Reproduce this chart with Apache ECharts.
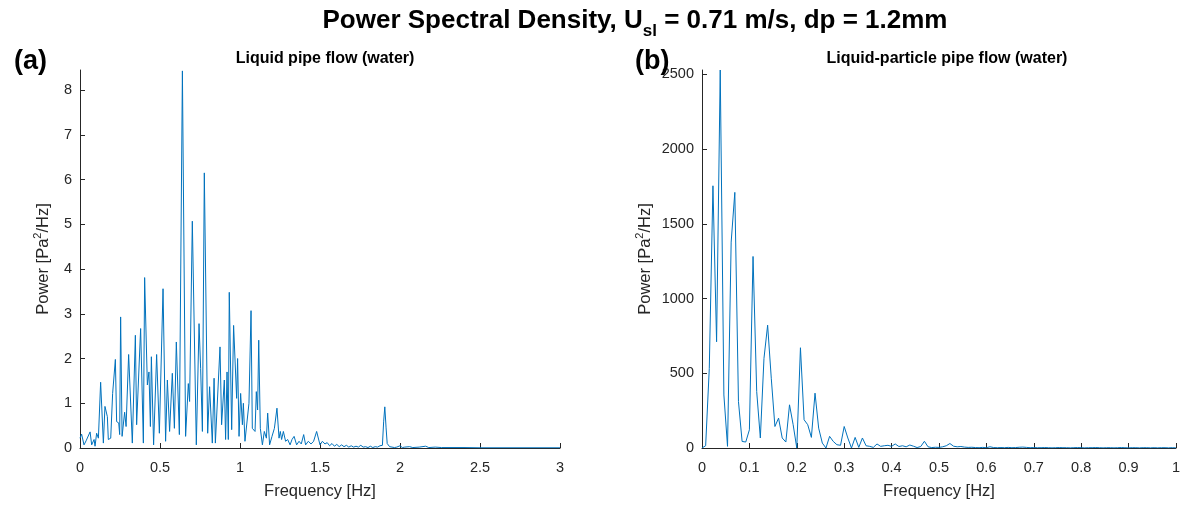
<!DOCTYPE html>
<html>
<head>
<meta charset="utf-8">
<script src="https://cdn.jsdelivr.net/npm/echarts@6/dist/echarts.min.js"></script>
<style>html,body{margin:0;padding:0;background:#fff}#c{width:1183px;height:505px}</style>
</head>
<body>
<div id="c"></div>
<script>
// ---- Panel (a): liquid pipe flow, vertices ----
const freqA = [0.000,0.010,0.025,0.038,0.048,0.063,0.073,0.088,0.094,0.104,0.115,0.129,0.146,0.156,0.171,0.177,0.192,0.204,0.221,0.229,0.242,0.248,0.254,0.263,0.279,0.288,0.304,0.327,0.346,0.354,0.379,0.396,0.404,0.421,0.431,0.440,0.446,0.460,0.479,0.496,0.519,0.535,0.546,0.560,0.577,0.590,0.602,0.621,0.640,0.660,0.677,0.685,0.702,0.727,0.744,0.754,0.765,0.777,0.798,0.810,0.827,0.838,0.846,0.875,0.885,0.902,0.910,0.919,0.927,0.933,0.948,0.960,0.979,0.985,0.994,1.004,1.015,1.021,1.031,1.056,1.069,1.077,1.094,1.102,1.110,1.117,1.127,1.140,1.152,1.165,1.173,1.185,1.200,1.215,1.231,1.244,1.252,1.260,1.271,1.285,1.298,1.313,1.325,1.338,1.354,1.369,1.383,1.398,1.410,1.427,1.444,1.460,1.479,1.500,1.515,1.531,1.545,1.560,1.575,1.590,1.605,1.620,1.635,1.650,1.665,1.680,1.695,1.710,1.725,1.740,1.755,1.770,1.785,1.800,1.815,1.830,1.845,1.860,1.875,1.890,1.898,1.905,1.913,1.920,1.935,1.950,1.965,1.980,2.000,2.015,2.030,2.060,2.080,2.120,2.160,2.180,2.220,2.260,2.300,2.400,2.500,2.600,2.700,2.800,2.900,3.000];
const powerA = [0.22,0.31,0.07,0.16,0.19,0.36,0.07,0.19,0.04,0.33,0.22,1.47,0.11,0.93,0.70,0.19,0.22,1.22,1.98,0.59,0.56,0.30,2.93,0.26,0.80,0.48,2.09,0.11,2.52,0.52,2.67,0.11,3.81,1.41,1.70,0.48,2.04,0.07,2.09,0.33,3.56,0.15,1.52,0.37,1.67,0.44,2.37,0.30,8.43,0.26,1.44,1.04,5.07,0.07,2.78,1.78,0.37,6.15,0.33,1.37,0.11,1.56,0.11,2.26,0.52,1.52,0.19,1.70,0.19,3.48,0.41,2.74,1.11,2.00,0.26,1.22,0.52,1.00,0.15,1.00,3.07,0.44,0.37,1.26,0.85,2.41,0.44,0.07,0.37,0.22,0.78,0.07,0.26,0.44,0.89,0.22,0.37,0.19,0.37,0.15,0.19,0.07,0.19,0.26,0.07,0.15,0.09,0.30,0.07,0.15,0.09,0.15,0.37,0.07,0.15,0.09,0.12,0.05,0.10,0.04,0.08,0.03,0.07,0.03,0.06,0.02,0.05,0.02,0.04,0.02,0.06,0.02,0.03,0.01,0.04,0.01,0.03,0.02,0.05,0.06,0.60,0.92,0.45,0.10,0.03,0.02,0.01,0.02,0.05,0.01,0.02,0.03,0.01,0.02,0.04,0.01,0.02,0.01,0.01,0.01,0.005,0.005,0.005,0.005,0.005,0.005];
const ticksXA = [0,0.5,1,1.5,2,2.5,3];
const ticksYA = [0,1,2,3,4,5,6,7,8];

// ---- Panel (b): liquid-particle pipe flow, uniform frequency grid ----
const dfB = 1/130;
const powerB = [0,15,533,1755,711,2530,355,11,1378,1711,311,44,40,122,1282,378,67,600,822,467,144,200,67,40,289,156,0,671,189,156,71,367,133,33,0,78,44,22,18,144,67,0,71,4,67,15,11,4,27,11,15,18,11,27,
10,15,8,20,12,3,10,45,8,3,5,4,8,15,30,12,8,10,6,4,5,3,2,4,2,8,3,2,3,2,4,2,3,5,6,4,2,3,2,2,3,2,1,2,3,2,
2,1,2,3,2,1,2,2,3,2,1,2,2,1,2,3,2,1,2,2,1,2,2,1,2,1,2,2,1,2,1];
const ticksXB = [0,0.1,0.2,0.3,0.4,0.5,0.6,0.7,0.8,0.9,1];
const ticksYB = [0,500,1000,1500,2000,2500];

const FONT = '"Liberation Sans", Arial, Helvetica, sans-serif';
const TXT = '#262626';
const LINE = '#0072BD';

const dataA = freqA.map((f, i) => [f, powerA[i]]);
const dataB = powerB.map((p, i) => [i * dfB, p]);

function xAxisCfg(gi, max, ticks) {
  return {
    type: 'value', gridIndex: gi, min: 0, max: max,
    name: 'Frequency [Hz]', nameLocation: 'middle', nameGap: 35,
    nameTextStyle: { fontFamily: FONT, fontSize: 16.5, color: TXT },
    axisLine: { lineStyle: { color: TXT, width: 1 } },
    axisTick: { inside: true, length: 5, lineStyle: { color: TXT }, customValues: ticks },
    axisLabel: { fontFamily: FONT, fontSize: 14.5, color: TXT, margin: 12, customValues: ticks, formatter: v => String(v) },
    splitLine: { show: false }
  };
}
function yAxisCfg(gi, max, ticks, gap) {
  return {
    type: 'value', gridIndex: gi, min: 0, max: max,
    name: 'Power [Pa{sup|2}/Hz]', nameLocation: 'middle', nameGap: gap, nameRotate: 90,
    nameTextStyle: { fontFamily: FONT, fontSize: 16.5, color: TXT, lineHeight: 22,
      rich: { sup: { fontFamily: FONT, fontSize: 11, color: TXT, verticalAlign: 'top', lineHeight: 12 } } },
    axisLine: { show: true, lineStyle: { color: TXT, width: 1 } },
    axisTick: { show: true, inside: true, length: 5, lineStyle: { color: TXT }, customValues: ticks },
    axisLabel: { fontFamily: FONT, fontSize: 14.5, color: TXT, margin: 8, customValues: ticks, formatter: v => String(v) },
    splitLine: { show: false }
  };
}

const chart = echarts.init(document.getElementById('c'), null, { renderer: 'canvas' });
chart.setOption({
  animation: false,
  backgroundColor: '#fff',
  title: [
    { text: 'Power Spectral Density, U{sub|sl} = 0.71 m/s, dp = 1.2mm', left: 630, top: -3, textAlign: 'center',
      textStyle: { fontFamily: FONT, fontSize: 26, fontWeight: 'bold', color: '#000', lineHeight: 38,
        rich: { sub: { fontFamily: FONT, fontSize: 17, fontWeight: 'bold', color: '#000', verticalAlign: 'bottom', lineHeight: 16 } } } },
    { text: '(a)', left: 9, top: 43, textStyle: { fontFamily: FONT, fontSize: 27, fontWeight: 'bold', color: '#000' } },
    { text: '(b)', left: 630, top: 43, textStyle: { fontFamily: FONT, fontSize: 27, fontWeight: 'bold', color: '#000' } },
    { text: 'Liquid pipe flow (water)', left: 320, top: 46, textAlign: 'center',
      textStyle: { fontFamily: FONT, fontSize: 16, fontWeight: 'bold', color: '#000' } },
    { text: 'Liquid-particle pipe flow (water)', left: 942, top: 46, textAlign: 'center',
      textStyle: { fontFamily: FONT, fontSize: 16, fontWeight: 'bold', color: '#000' } }
  ],
  grid: [
    { left: 80, top: 70, width: 480, height: 380 },
    { left: 702, top: 70, width: 479, height: 380 }
  ],
  xAxis: [ xAxisCfg(0, 3, ticksXA), xAxisCfg(1, 1, ticksXB) ],
  yAxis: [ yAxisCfg(0, 8.45, ticksYA, 26), yAxisCfg(1, 2530, ticksYB, 46) ],
  series: [
    { type: 'line', xAxisIndex: 0, yAxisIndex: 0, data: dataA, showSymbol: false, symbol: 'none',
      lineStyle: { color: LINE, width: 1 }, clip: true },
    { type: 'line', xAxisIndex: 1, yAxisIndex: 1, data: dataB, showSymbol: false, symbol: 'none',
      lineStyle: { color: LINE, width: 1 }, clip: true }
  ]
});
</script>
</body>
</html>
